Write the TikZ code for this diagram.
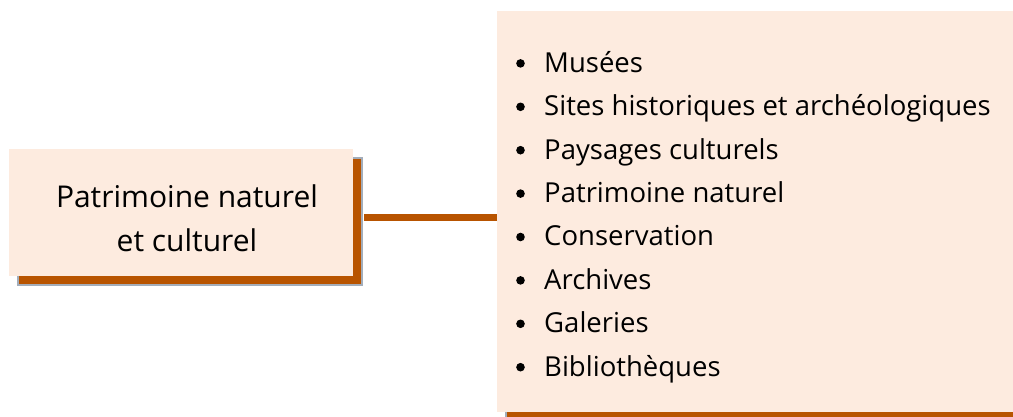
\documentclass[tikz,border=0pt]{standalone}
\usepackage{fontspec}
\setmainfont{Open Sans}
\usepackage{xcolor}
\usetikzlibrary{shadows, positioning}

\definecolor{peach}{HTML}{FDEBDF}
\definecolor{rust}{HTML}{B85400}
\definecolor{slate}{HTML}{A3ADBA}

\newcommand{\listdot}{\makebox[30pt][l]{\hspace{2pt}\raisebox{4.5pt}{\tikz\fill (0,0) circle (4.3pt);}}}

\begin{document}
\begin{tikzpicture}[
    x=1pt, y=-1pt,
    box/.style={rectangle, fill=peach, inner sep=0pt, drop shadow={shadow xshift=9pt, shadow yshift=-9pt, fill=rust, draw=slate, line width=1.2pt, opacity=1}},
    link/.style={draw=rust, line width=7pt}
]
\useasboundingbox (0,0) rectangle (1013,417);

% Theme
\node [box, minimum width=344pt, minimum height=127pt, align=center, font=\fontsize{30}{44}\selectfont] (patrimoine) at (181,212.5) {\hspace*{12pt}\rule{0pt}{34pt}Patrimoine naturel\\\hspace*{12pt}et culturel};

% Related fields
\node [box, minimum width=530pt, minimum height=401pt] (themes) at (762,211.5) {};
\node [anchor=base west, align=left, inner sep=0pt, font=\fontsize{27.5}{43.4}\selectfont] (list) at (514,376) {%
\listdot Musées\\
\listdot Sites historiques et archéologiques\\
\listdot Paysages culturels\\
\listdot Patrimoine naturel\\
\listdot Conservation\\
\listdot Archives\\
\listdot Galeries\\
\listdot Bibliothèques};

% Connector
\draw [link, shorten <=11pt] ([yshift=-5pt]patrimoine.east) -- ([yshift=-5pt]patrimoine.east -| themes.west);

\end{tikzpicture}
\end{document}
